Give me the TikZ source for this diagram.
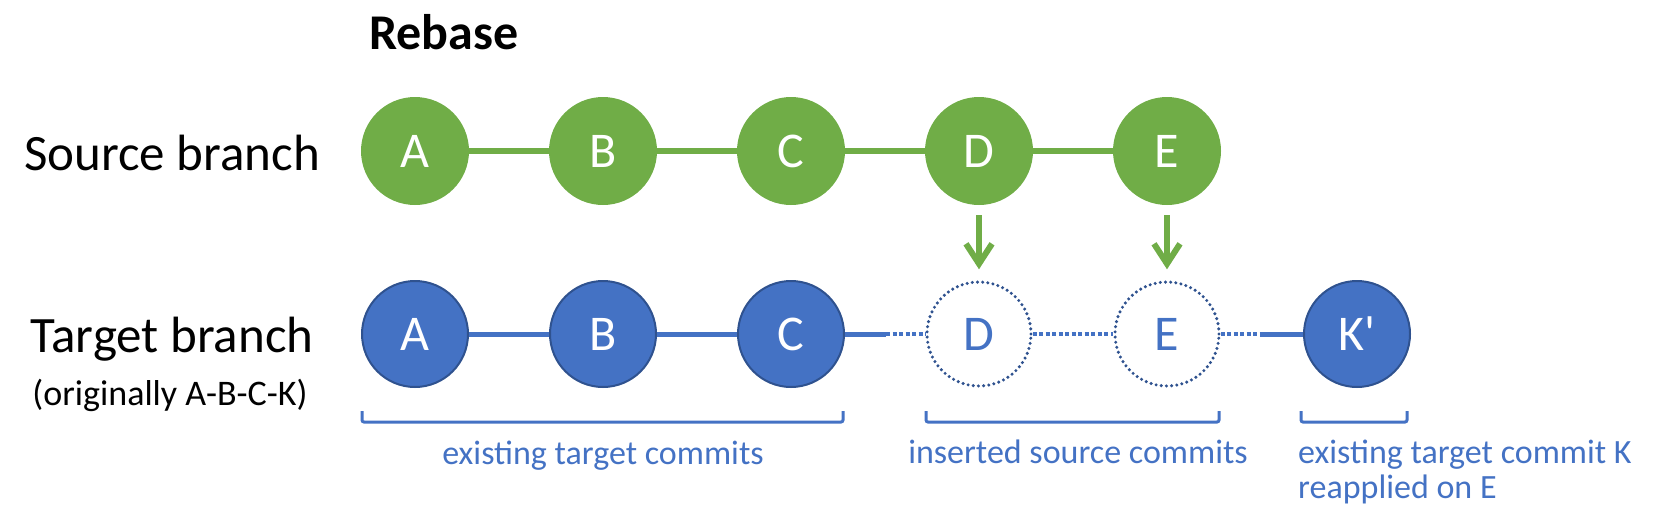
\documentclass[tikz,border=0pt]{standalone}
\usepackage{fontspec}
\setmainfont{Carlito}
\usetikzlibrary{arrows.meta}
\definecolor{gitgreen}{HTML}{70AD47}
\definecolor{gitblue}{HTML}{4472C4}
\definecolor{gitdark}{HTML}{2F528F}

\begin{document}
\begin{tikzpicture}[x=1pt, y=-1pt,
  src/.style={circle, fill=gitgreen, minimum size=108pt, inner sep=0pt, text=white, font=\fontsize{50}{50}\selectfont},
  tgt/.style={circle, fill=gitblue, draw=gitdark, line width=2pt, minimum size=106pt, inner sep=0pt, text=white, font=\fontsize{50}{50}\selectfont},
  ghost/.style={circle, draw=gitdark, line width=3.4pt, line cap=round, dash pattern=on 0pt off 5.2pt, minimum size=104pt, inner sep=0pt, text=gitblue, font=\fontsize{50}{50}\selectfont},
  dots/.style={gitblue, line width=3.5pt, dash pattern=on 4pt off 2.5pt},
  brace/.style={gitblue, line width=3pt, rounded corners=2pt},
  note/.style={text=gitblue, inner sep=0pt, font=\fontsize{34}{35}\selectfont}]
\useasboundingbox (0,0) rectangle (1663,517);
\node[anchor=base, inner sep=0pt, font=\bfseries\fontsize{50}{50}\selectfont] (title) at (444,49) {Rebase};
\node[anchor=base, inner sep=0pt, font=\fontsize{51}{51}\selectfont] (srclabel) at (172,170) {Source branch};
\node[anchor=base, inner sep=0pt, font=\fontsize{51}{51}\selectfont] (tgtlabel) at (172,352) {Target branch};
\node[anchor=base, inner sep=0pt, font=\fontsize{36}{36}\selectfont] (orig) at (170,405) {(originally A-B-C-K)};
% source branch
\node[src] (sA) at (415,151) {A};
\node[src] (sB) at (603,151) {B};
\node[src] (sC) at (791,151) {C};
\node[src] (sD) at (979,151) {D};
\node[src] (sE) at (1167,151) {E};
\draw[gitgreen, line width=5.5pt] (sA) -- (sB) (sB) -- (sC) (sC) -- (sD) (sD) -- (sE);
% target branch
\node[tgt] (tA) at (415,334) {A};
\node[tgt] (tB) at (603,334) {B};
\node[tgt] (tC) at (791,334) {C};
\node[ghost] (tD) at (979,334) {D};
\node[ghost] (tE) at (1167,334) {E};
\node[tgt] (tK) at (1357,334) {K\textquotesingle};
\coordinate (cd) at (886,334);
\coordinate (ek) at (1260,334);
\draw[gitblue, line width=5pt] (tA) -- (tB) (tB) -- (tC) (tC) -- (cd) (ek) -- (tK);
\draw[dots] (cd) -- (tD.west);
\draw[dots] (tD.east) -- (tE.west);
\draw[dots] (tE.east) -- (ek);
% rebase arrows
\draw[gitgreen, line width=6pt, -{Straight Barb[length=20pt, width=26pt]}, shorten <=10pt, shorten >=11pt] (sD) -- (tD);
\draw[gitgreen, line width=6pt, -{Straight Barb[length=20pt, width=26pt]}, shorten <=10pt, shorten >=11pt] (sE) -- (tE);
% brackets
\draw[brace] (362,411) -- (362,422) -- (843,422) -- (843,411);
\draw[brace] (926,411) -- (926,422) -- (1219,422) -- (1219,411);
\draw[brace] (1301,411) -- (1301,422) -- (1407,422) -- (1407,411);
\node[note, anchor=base] (n1) at (603,464) {existing target commits};
\node[note, anchor=base] (n2) at (1078,463) {inserted source commits};
\node[note, anchor=base west, align=left] (n3) at (1298,498) {existing target commit K\\reapplied on E};
\end{tikzpicture}
\end{document}
